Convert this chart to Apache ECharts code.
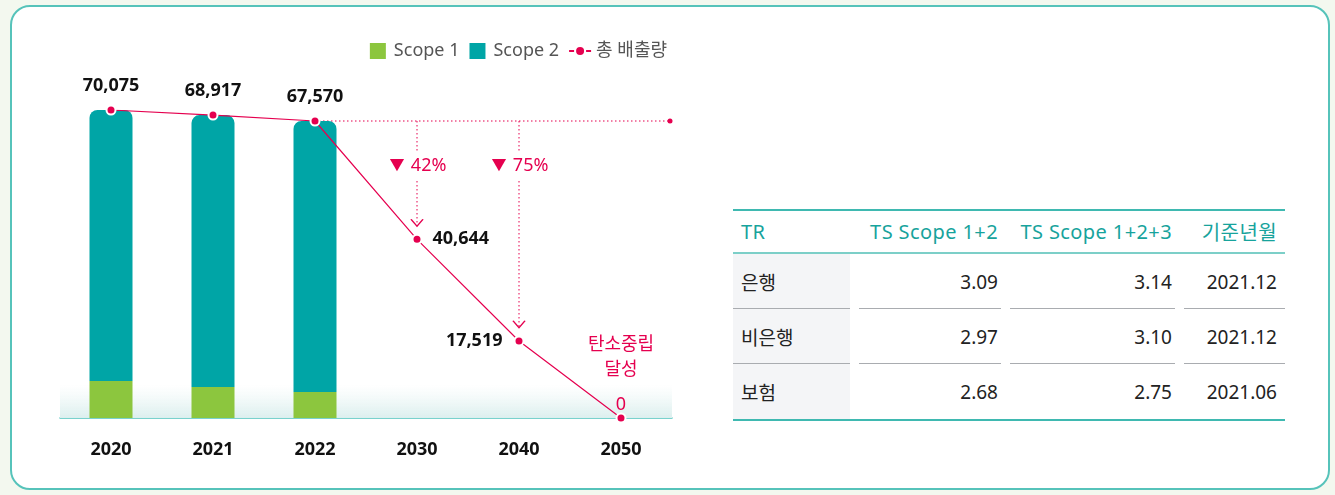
<!DOCTYPE html>
<html>
<head>
<meta charset="utf-8">
<script src="https://cdn.jsdelivr.net/npm/echarts@6/dist/echarts.min.js"></script>
<style>
html,body{margin:0;padding:0;width:1335px;height:495px;overflow:hidden;background:#f3f8ef;font-family:'Noto Sans','Noto Sans CJK KR',sans-serif;}
#box{position:absolute;left:10px;top:5px;width:1316px;height:481px;border:2px solid #56c3ba;border-radius:20px;background:#fff;}
#chart{position:absolute;left:0;top:0;width:700px;height:495px;}
#tbl{position:absolute;left:733px;top:209px;width:552px;border-collapse:collapse;table-layout:fixed;
  border-top:2px solid #3fb9b1;border-bottom:2px solid #3fb9b1;}
#tbl th{height:41px;padding:0 12px 0 0;color:#17a39c;font-weight:normal;font-size:20px;letter-spacing:0.4px;text-align:right;border-bottom:2px solid #7ccfc8;white-space:nowrap;}
#tbl td{height:55px;padding:0 12px 0 0;font-size:19px;color:#222;text-align:right;
  background:linear-gradient(#a9acb0,#a9acb0) left bottom/calc(100% - 9px) 1px no-repeat;}
#tbl th:first-child,#tbl td:first-child{text-align:left;padding-left:8px;}
#tbl td:first-child{background:linear-gradient(#a9acb0,#a9acb0) left bottom/117px 1px no-repeat,
  linear-gradient(#f4f5f7,#f4f5f7) left top/117px 100% no-repeat;}
#tbl td:last-child{background-size:100% 1px;}
#tbl th:last-child,#tbl td:last-child{padding-right:8px;}
#tbl tr:last-child td{background:none;}
#tbl tr:last-child td:first-child{background:linear-gradient(#f4f5f7,#f4f5f7) left top/117px 100% no-repeat;}
</style>
</head>
<body>
<div id="box"></div>
<div id="chart"></div>
<table id="tbl">
  <colgroup><col style="width:126px"><col style="width:151px"><col style="width:174px"><col style="width:101px"></colgroup>
  <thead><tr id="thead"></tr></thead><tbody id="tbody"></tbody>
</table>
<script>
// 연도별 배출량
var years = ['2020', '2021', '2022', '2030', '2040', '2050'];
var scope1 = [8400, 7050, 5900, null, null, null];
var scope2 = [61675, 61867, 61670, null, null, null];
var total = [70075, 68917, 67570, 40644, 17519, 0];
var legendNames = ['Scope 1', 'Scope 2', '총 배출량'];

// 표
var tableHead = ['TR', 'TS Scope 1+2', 'TS Scope 1+2+3', '기준년월'];
var tableRows = [
  ['은행', '3.09', '3.14', '2021.12'],
  ['비은행', '2.97', '3.10', '2021.12'],
  ['보험', '2.68', '2.75', '2021.06']
];

(function () {
  document.getElementById('thead').innerHTML = tableHead.map(function (h) { return '<th>' + h + '</th>'; }).join('');
  document.getElementById('tbody').innerHTML = tableRows.map(function (r) {
    return '<tr>' + r.map(function (c) { return '<td>' + c + '</td>'; }).join('') + '</tr>';
  }).join('');
})();

(function () {
  var RED = '#e5004f';
  var FONT = "'Noto Sans','Noto Sans CJK KR',sans-serif";
  var base = 2;          // 2022 기준점
  var ARROW_GAP = 3000;  // 화살표 끝과 점 사이
  var mid = function (i) { return i + 0.5; };
  var chevron = 'path://M0,0L6,7L12,0';

  var lineData = total.map(function (v, i) {
    var item = { value: v };
    if (i <= base) item.label = { position: 'top', distance: 10 };
    else if (i === 3) item.label = { position: 'right', distance: 10 };
    else if (i === 4) item.label = { position: 'left', distance: 11 };
    else item.label = { position: 'top', distance: -1, color: RED, fontWeight: 'normal' };
    return item;
  });

  function guide(i) {
    var pct = Math.round((1 - total[i] / total[0]) * 100);
    return {
      name: 'g' + i, type: 'line', xAxisIndex: 1, z: 1, silent: true,
      lineStyle: { color: RED, width: 1, type: [1.5, 2.5] },
      itemStyle: { color: 'rgba(0,0,0,0)', borderColor: RED, borderWidth: 1.2 },
      data: [
        { value: [mid(i), total[base]], symbol: 'circle', symbolSize: 0,
          label: { show: true, position: 'inside', offset: [1, 45], formatter: '{t|▼}  {p|' + pct + '%}',
            backgroundColor: '#fff', padding: [4, 3],
            rich: { t: { fontSize: 15, color: RED, fontFamily: FONT }, p: { fontSize: 18, color: RED, fontFamily: FONT } } } },
        { value: [mid(i), total[i] + ARROW_GAP], symbol: chevron, symbolSize: [12, 7], symbolOffset: [0, -3.5] }
      ]
    };
  }

  var chart = echarts.init(document.getElementById('chart'));
  var option = {
    animation: false,
    textStyle: { fontFamily: FONT },
    legend: {
      data: legendNames.map(function (n, i) {
        if (i < 2) return { name: n, icon: 'path://M0,0L16,0L16,16L0,16Z' };
        return { name: n, icon: 'path://M0,7L5,7L5,9L0,9Z M17,7L22,7L22,9L17,9Z M7,8A4,4,0,1,0,15,8A4,4,0,1,0,7,8Z',
          itemStyle: { borderWidth: 0, borderColor: 'transparent' } };
      }),
      right: 28, top: 37, itemWidth: 22, itemHeight: 16, itemGap: 10,
      textStyle: { fontSize: 18, color: '#555', fontFamily: FONT }
    },
    grid: { left: 60, right: 28, top: 110, bottom: 77 },
    xAxis: [
      {
        type: 'category', data: years,
        axisLine: { lineStyle: { color: '#4ec4bd', width: 1.5 } },
        axisTick: { show: false },
        axisLabel: { fontSize: 18, fontWeight: 'bold', color: '#111', margin: 23, fontFamily: FONT }
      },
      { type: 'value', min: 0, max: 6, show: false }
    ],
    yAxis: { type: 'value', min: 0, max: total[0], show: false, splitLine: { show: false } },
    series: [
      {
        name: 'Scope 1', type: 'bar', stack: 'e', barWidth: 43, z: 2,
        itemStyle: { color: '#8cc63e' }, data: scope1
      },
      {
        name: 'Scope 2', type: 'bar', stack: 'e', barWidth: 43, z: 2,
        itemStyle: { color: '#00a5a6', borderRadius: [8, 8, 0, 0] }, data: scope2
      },
      {
        name: '총 배출량', type: 'line', z: 4,
        symbol: 'circle', symbolSize: 9,
        lineStyle: { color: RED, width: 1.2 },
        itemStyle: { color: RED, borderColor: '#fff', borderWidth: 2 },
        label: { show: true, fontSize: 18, fontWeight: 'bold', color: '#111', fontFamily: FONT,
          formatter: function (p) { return p.value.toLocaleString('en-US'); } },
        markPoint: {
          silent: true, symbol: 'circle', symbolSize: 0,
          label: { show: true, position: 'inside', offset: [0, -61], formatter: '탄소중립\n달성',
            fontSize: 18, lineHeight: 25, color: RED, fontFamily: FONT },
          data: [{ coord: [years[5], total[5]] }]
        },
        data: lineData
      },
      {
        name: 'gh', type: 'line', xAxisIndex: 1, z: 1, silent: true,
        lineStyle: { color: RED, width: 1, type: [1.5, 2.5] },
        itemStyle: { color: RED },
        markArea: {
          silent: true,
          itemStyle: { color: new echarts.graphic.LinearGradient(0, 0, 0, 1, [
            { offset: 0, color: 'rgba(230,244,243,0)' }, { offset: 1, color: '#dcefee' }]) },
          data: [[{ yAxis: 0 }, { yAxis: 7500 }]]
        },
        data: [
          { value: [mid(base), total[base]], symbol: 'circle', symbolSize: 0 },
          { value: [6, total[base]], symbol: 'circle', symbolSize: 5, symbolOffset: [-2, 0] }
        ]
      },
      guide(3),
      guide(4)
    ]
  };
  chart.setOption(option);
})();
</script>
</body>
</html>
